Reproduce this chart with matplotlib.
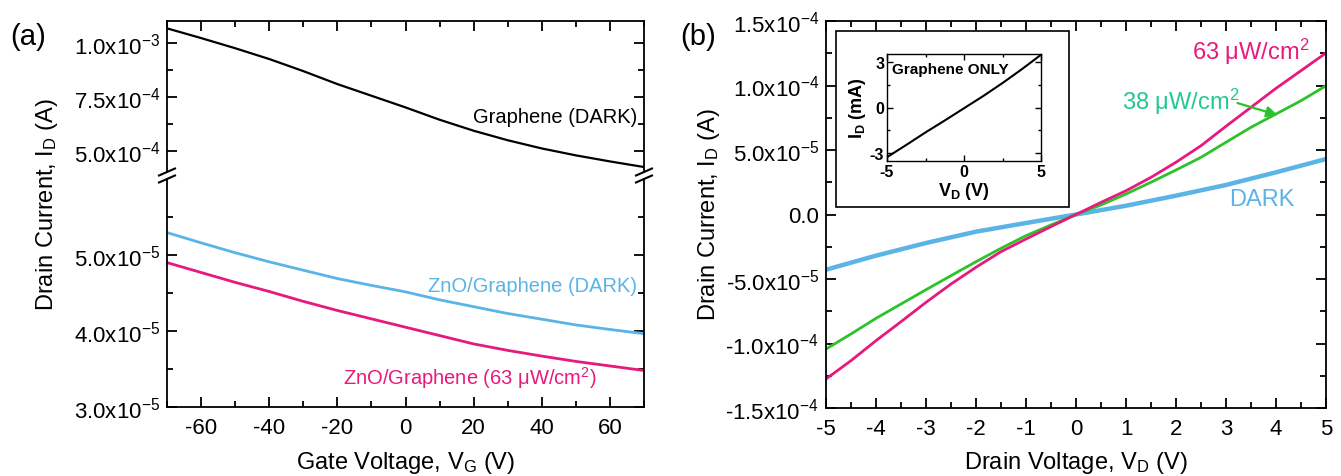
import matplotlib
matplotlib.use("Agg")
import matplotlib.pyplot as plt
from matplotlib.ticker import FixedLocator, FixedFormatter, MultipleLocator
from matplotlib.lines import Line2D
from matplotlib.patches import Rectangle

plt.rcParams['font.family'] = ['Liberation Sans', 'DejaVu Sans']
plt.rcParams['mathtext.fontset'] = 'custom'
plt.rcParams['mathtext.rm'] = 'Liberation Sans'
plt.rcParams['mathtext.it'] = 'Liberation Sans:italic'
plt.rcParams['mathtext.bf'] = 'Liberation Sans:bold'
plt.rcParams['axes.linewidth'] = 1.3
plt.rcParams['axes.unicode_minus'] = False

# ---------------- data: panel (a) ----------------
vg = [-70, -60, -50, -40, -30, -20, -10, 0, 10, 20, 30, 40, 50, 60, 70]
graphene_dark = [1.068e-3, 1.023e-3, 0.976e-3, 0.926e-3, 0.870e-3, 0.810e-3, 0.756e-3,
                 0.702e-3, 0.645e-3, 0.594e-3, 0.550e-3, 0.512e-3, 0.480e-3, 0.452e-3, 0.426e-3]
zno_dark = [5.295e-5, 5.16e-5, 5.03e-5, 4.91e-5, 4.80e-5, 4.69e-5, 4.60e-5, 4.515e-5,
            4.41e-5, 4.32e-5, 4.23e-5, 4.155e-5, 4.08e-5, 4.02e-5, 3.965e-5]
zno_light = [4.90e-5, 4.77e-5, 4.64e-5, 4.52e-5, 4.39e-5, 4.27e-5, 4.16e-5, 4.05e-5,
             3.94e-5, 3.83e-5, 3.745e-5, 3.67e-5, 3.60e-5, 3.54e-5, 3.48e-5]

upper_ticks = [5.0e-4, 7.5e-4, 1.0e-3]
upper_labels = ['5.0x10$^{-4}$', '7.5x10$^{-4}$', '1.0x10$^{-3}$']
lower_ticks = [3.0e-5, 4.0e-5, 5.0e-5]
lower_labels = ['3.0x10$^{-5}$', '4.0x10$^{-5}$', '5.0x10$^{-5}$']
vg_ticks = [-60, -40, -20, 0, 20, 40, 60]

# ---------------- data: panel (b) ----------------
vd = [-5, -4.5, -4, -3.5, -3, -2.5, -2, -1.5, -1, -0.5, 0,
      0.5, 1, 1.5, 2, 2.5, 3, 3.5, 4, 4.5, 5]
id_63 = [-1.275e-4, -1.133e-4, -0.978e-4, -0.831e-4, -0.681e-4, -0.539e-4, -0.409e-4,
         -0.288e-4, -0.190e-4, -0.094e-4, 0.0, 0.094e-4, 0.184e-4, 0.288e-4, 0.405e-4,
         0.533e-4, 0.684e-4, 0.831e-4, 0.978e-4, 1.115e-4, 1.252e-4]
id_38 = [-1.043e-4, -0.926e-4, -0.805e-4, -0.694e-4, -0.583e-4, -0.474e-4, -0.366e-4,
         -0.262e-4, -0.164e-4, -0.081e-4, 0.0, 0.074e-4, 0.159e-4, 0.250e-4, 0.345e-4,
         0.443e-4, 0.560e-4, 0.676e-4, 0.779e-4, 0.882e-4, 0.998e-4]
vd_dark = [-5, -4, -3, -2, -1, 0, 1, 2, 3, 4, 5]
id_dark = [-0.428e-4, -0.319e-4, -0.221e-4, -0.133e-4, -0.066e-4, 0.0,
           0.068e-4, 0.146e-4, 0.229e-4, 0.327e-4, 0.430e-4]
b_ticks = [-1.5e-4, -1.0e-4, -5.0e-5, 0.0, 5.0e-5, 1.0e-4, 1.5e-4]
b_labels = ['-1.5x10$^{-4}$', '-1.0x10$^{-4}$', '-5.0x10$^{-5}$', '0.0',
            '5.0x10$^{-5}$', '1.0x10$^{-4}$', '1.5x10$^{-4}$']

# inset
vd_in = [-5, -3.75, -2.5, -1.25, 0, 1.25, 2.5, 3.75, 5]
id_in = [-3.25, -2.45, -1.63, -0.85, -0.05, 0.75, 1.6, 2.5, 3.45]

BLACK = '#000000'
BLUE = '#5AB4E6'
PINK = '#E8197C'
GREEN = '#2CC22C'
GREEN_TXT = '#22C98E'

W, H = 1341, 477
fig = plt.figure(figsize=(W / 100, H / 100), dpi=100)


def rect(l, t, r, b):
    return [l / W, 1 - b / H, (r - l) / W, (b - t) / H]


TFS = 16

def style(ax, fs=TFS):
    ax.tick_params(which='both', direction='in', top=True, right=True, labelsize=fs)
    ax.tick_params(which='major', length=7, width=1.3)
    ax.tick_params(which='minor', length=4, width=1.3)


# ---------------- panel (a) ----------------
ax_u = fig.add_axes(rect(167, 22, 644, 173))
ax_l = fig.add_axes(rect(167, 180, 644, 408))

ax_u.plot(vg, graphene_dark, color=BLACK, lw=1.6)
ax_l.plot(vg, zno_dark, color=BLUE, lw=2.0)
ax_l.plot(vg, zno_light, color=PINK, lw=2.0)

for ax in (ax_u, ax_l):
    ax.set_xlim(-70, 70)
    style(ax)
    ax.xaxis.set_major_locator(FixedLocator(vg_ticks))
    ax.xaxis.set_minor_locator(MultipleLocator(10))

ax_u.set_ylim(4.03e-4, 1.102e-3)
ax_u.yaxis.set_major_locator(FixedLocator(upper_ticks))
ax_u.yaxis.set_major_formatter(FixedFormatter(upper_labels))
ax_u.yaxis.set_minor_locator(FixedLocator([6.25e-4, 8.75e-4]))
ax_u.spines['bottom'].set_visible(False)
ax_u.tick_params(which='both', bottom=False, labelbottom=False)

ax_l.set_ylim(3.0e-5, 6.0e-5)
ax_l.yaxis.set_major_locator(FixedLocator(lower_ticks))
ax_l.yaxis.set_major_formatter(FixedFormatter(lower_labels))
ax_l.yaxis.set_minor_locator(FixedLocator([3.5e-5, 4.5e-5, 5.5e-5]))
ax_l.spines['top'].set_visible(False)
ax_l.tick_params(which='both', top=False)
ax_l.tick_params(axis='x', pad=7)
ax_u.tick_params(axis='y', pad=5)
ax_l.tick_params(axis='y', pad=5)

# break marks
for xp in (167, 644):
    for yp in (173, 180):
        fig.add_artist(Line2D([(xp - 8) / W, (xp + 8) / W],
                              [1 - (yp + 3.5) / H, 1 - (yp - 3.5) / H],
                              color='black', lw=1.5, transform=fig.transFigure))

ax_u.text(68, 6.62e-4, 'Graphene (DARK)', color=BLACK, fontsize=14.5,
          ha='right', va='center')
ax_l.text(68, 4.605e-5, 'ZnO/Graphene (DARK)', color=BLUE, fontsize=14.5,
          ha='right', va='center')
ax_l.text(56, 3.39e-5, 'ZnO/Graphene (63 μW/cm$^{2}$)', color=PINK, fontsize=14.5,
          ha='right', va='center')

fig.text(47 / W, 1 - 205 / H, 'Drain Current, I$_{\\rm D}$ (A)', rotation=90,
         fontsize=17, ha='center', va='center')
fig.text(406 / W, 1 - 469 / H, 'Gate Voltage, V$_{\\rm G}$ (V)',
         fontsize=17, ha='center', va='baseline')
fig.text(10 / W, 1 - 37 / H, '(a)', fontsize=21, ha='left', va='center')

# ---------------- panel (b) ----------------
ax_b = fig.add_axes(rect(826, 22, 1326, 409))
ax_b.plot(vd_dark, id_dark, color=BLUE, lw=3.2)
ax_b.plot(vd, id_38, color=GREEN, lw=2.0)
ax_b.plot(vd, id_63, color=PINK, lw=2.0)
ax_b.set_xlim(-5, 5)
ax_b.set_ylim(-1.5e-4, 1.5e-4)
style(ax_b)
ax_b.xaxis.set_major_locator(MultipleLocator(1))
ax_b.xaxis.set_minor_locator(MultipleLocator(0.5))
ax_b.yaxis.set_major_locator(FixedLocator(b_ticks))
ax_b.yaxis.set_major_formatter(FixedFormatter(b_labels))
ax_b.yaxis.set_minor_locator(MultipleLocator(2.5e-5))
ax_b.tick_params(axis='x', pad=7)
ax_b.tick_params(axis='y', pad=5)

ax_b.text(2.33, 1.27e-4, '63 μW/cm$^{2}$', color=PINK, fontsize=17,
          ha='left', va='center')
ax_b.text(0.93, 0.882e-4, '38 μW/cm$^{2}$', color=GREEN_TXT, fontsize=17,
          ha='left', va='center')
ax_b.annotate('', xy=(4.03, 0.771e-4), xytext=(3.23, 0.864e-4),
              arrowprops=dict(arrowstyle='-|>', color=GREEN, lw=1.6,
                              mutation_scale=16, shrinkA=0, shrinkB=0))
ax_b.text(3.07, 0.12e-4, 'DARK', color=BLUE, fontsize=17, ha='left', va='center')

fig.text(709 / W, 1 - 215 / H, 'Drain Current, I$_{\\rm D}$ (A)', rotation=90,
         fontsize=17, ha='center', va='center')
fig.text(1076 / W, 1 - 469 / H, 'Drain Voltage, V$_{\\rm D}$ (V)',
         fontsize=17, ha='center', va='baseline')
fig.text(680 / W, 1 - 37 / H, '(b)', fontsize=21, ha='left', va='center')

# inset frame
l, t, r, b = 836, 32, 1069, 208
fig.add_artist(Rectangle((l / W, 1 - b / H), (r - l) / W, (b - t) / H,
                         transform=fig.transFigure, facecolor='white',
                         edgecolor='black', lw=1.2, zorder=3))
ax_in = fig.add_axes(rect(887, 55, 1041, 162))
ax_in.set_zorder(4)
ax_in.plot(vd_in, id_in, color=BLACK, lw=1.5)
ax_in.set_xlim(-5, 5)
ax_in.set_ylim(-3.5, 3.5)
ax_in.tick_params(which='both', direction='in', top=True, right=True, labelsize=11.5)
ax_in.tick_params(which='major', length=4, width=1.0, pad=2)
ax_in.tick_params(which='minor', length=2, width=1.0)
ax_in.xaxis.set_major_locator(FixedLocator([-5, 0, 5]))
ax_in.xaxis.set_minor_locator(FixedLocator([-2.5, 2.5]))
ax_in.yaxis.set_major_locator(FixedLocator([-3, 0, 3]))
ax_in.yaxis.set_minor_locator(FixedLocator([-1.5, 1.5]))
for lab in ax_in.get_xticklabels() + ax_in.get_yticklabels():
    lab.set_fontweight('bold')
for sp in ax_in.spines.values():
    sp.set_linewidth(1.0)
ax_in.text(-4.7, 2.55, 'Graphene ONLY', fontsize=11, fontweight='bold',
           ha='left', va='center')
ax_in.set_ylabel('I$_{\\mathbf{D}}$ (mA)', fontsize=13, fontweight='bold', labelpad=1)
ax_in.set_xlabel('V$_{\\mathbf{D}}$ (V)', fontsize=13, fontweight='bold', labelpad=1)

fig.savefig('out.png', dpi=100)
